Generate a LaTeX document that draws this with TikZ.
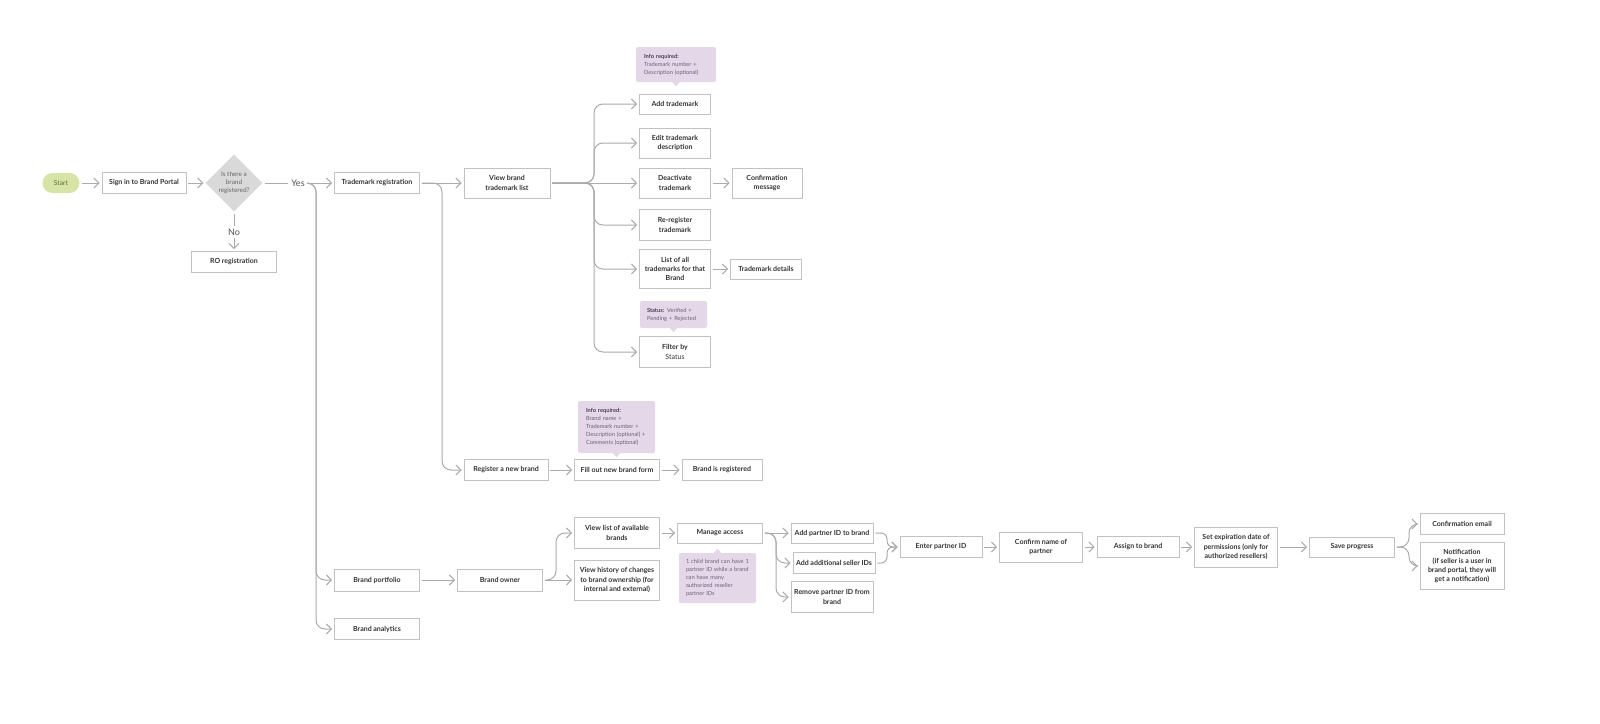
\documentclass[tikz,border=0pt]{standalone}
\usepackage{fontspec}
\setmainfont{Lato}
\usetikzlibrary{arrows.meta,shapes.geometric,calc}
\definecolor{linec}{HTML}{ABABAB}
\definecolor{boxc}{HTML}{C2C2C2}
\definecolor{txtc}{HTML}{333333}
\definecolor{startfill}{HTML}{D6E4A6}
\definecolor{starttxt}{HTML}{5A6A3A}
\definecolor{diafill}{HTML}{D9D9D9}
\definecolor{diatxt}{HTML}{666666}
\definecolor{notefill}{HTML}{E3D7E8}
\definecolor{notetxt}{HTML}{6E5F80}
\definecolor{notehead}{HTML}{4A3D58}
\tikzset{
  box/.style={draw=boxc, fill=white, line width=0.8pt, align=center, inner sep=0pt,
    text=txtc, font=\fontsize{7}{9.3}\selectfont\bfseries},
  conn/.style={draw=linec, line width=1pt, rounded corners=9pt, shorten <=2pt, shorten >=2pt,
    -{Straight Barb[length=5pt,width=10pt,line width=1pt]}},
  plain/.style={draw=linec, line width=1pt, rounded corners=9pt, shorten <=2pt, shorten >=2pt},
  note/.style={fill=notefill, rounded corners=2pt, align=left, inner sep=0pt, text=notetxt,
    font=\fontsize{5.7}{7.9}\selectfont},
  lbl/.style={text=txtc!85, font=\fontsize{9}{10}\selectfont, inner sep=1pt}
}
\begin{document}
\begin{tikzpicture}[x=1pt,y=-1pt]
\useasboundingbox[fill=white] (0,0) rectangle (1600,723);

% ---- top-left flow
\node[fill=startfill, rounded corners=10pt, minimum width=37pt, minimum height=20pt, inner sep=0pt,
  text=starttxt, font=\fontsize{6.7}{8}\selectfont] (start) at (61,183) {Start};
\node[box, minimum width=84pt, minimum height=21pt] (signin) at (144,183) {Sign in to Brand Portal};
\node[diamond, fill=diafill, minimum width=57pt, minimum height=57pt, inner sep=0pt] (dia) at (234,183) {};
\node[align=center, text=diatxt, font=\fontsize{6.4}{7.9}\selectfont, inner sep=0pt] (diatext) at (dia.center) {Is there a\\brand\\registered?};
\node[lbl] (yes) at (298,183) {Yes};
\node[lbl] (no) at (234,232) {No};
\node[box, minimum width=85pt, minimum height=21pt] (ro) at (234,262) {RO registration};

% ---- trademark branch
\node[box, minimum width=85pt, minimum height=21pt] (tmreg) at (377,183) {Trademark registration};
\node[box, minimum width=86pt, minimum height=30pt] (vbtl) at (507,183) {View brand\\trademark list};
\node[box, minimum width=71pt, minimum height=20pt] (add) at (675,104) {Add trademark};
\node[box, minimum width=71pt, minimum height=30pt] (edit) at (675,143) {Edit trademark\\description};
\node[box, minimum width=71pt, minimum height=30pt] (deact) at (675,183) {Deactivate\\trademark};
\node[box, minimum width=70pt, minimum height=30pt] (confmsg) at (767,183) {Confirmation\\message};
\node[box, minimum width=71pt, minimum height=31pt] (rereg) at (675,225) {Re-register\\trademark};
\node[box, minimum width=71pt, minimum height=39pt] (list) at (675,269) {List of all\\trademarks for that\\Brand};
\node[box, minimum width=71pt, minimum height=20pt] (tmdet) at (766,269) {Trademark details};
\node[box, minimum width=71pt, minimum height=31pt] (filter) at (675,352) {Filter by\\{\mdseries Status}};

\node[note, minimum width=80pt, minimum height=35pt, text width=64pt] (n1) at (676,64.5)
  {{\color{notehead}\bfseries Info required:}\\Trademark number +\\Description (optional)};
\fill[notefill] ($(n1.south)+(-4,-0.5)$) -- ($(n1.south)+(4,-0.5)$) -- ($(n1.south)+(0,4)$) -- cycle;
\node[note, minimum width=67pt, minimum height=27pt, text width=53pt] (n2) at (673.5,314.5)
  {{\color{notehead}\bfseries Status:} Verified +\\Pending + Rejected};
\fill[notefill] ($(n2.south)+(-4,-0.5)$) -- ($(n2.south)+(4,-0.5)$) -- ($(n2.south)+(0,4)$) -- cycle;

% ---- register new brand
\node[box, minimum width=84pt, minimum height=21pt] (regnew) at (506,470) {Register a new brand};
\node[box, minimum width=85pt, minimum height=21pt] (fill) at (617,470) {Fill out new brand form};
\node[box, minimum width=80pt, minimum height=21pt] (isreg) at (722,470) {Brand is registered};
\node[note, minimum width=77pt, minimum height=52pt, text width=61pt] (n3) at (616.5,427)
  {{\color{notehead}\bfseries Info required:}\\Brand name +\\Trademark number +\\Description (optional) +\\Comments (optional)};
\fill[notefill] ($(n3.south)+(-4,-0.5)$) -- ($(n3.south)+(4,-0.5)$) -- ($(n3.south)+(0,4)$) -- cycle;

% ---- portfolio branch
\node[box, minimum width=85pt, minimum height=22pt] (portfolio) at (377,580) {Brand portfolio};
\node[box, minimum width=85pt, minimum height=21pt] (analytics) at (377,629) {Brand analytics};
\node[box, minimum width=85pt, minimum height=22pt] (owner) at (500,580) {Brand owner};
\node[box, minimum width=85pt, minimum height=31pt] (vla) at (617,533) {View list of available\\brands};
\node[box, minimum width=85pt, minimum height=40pt] (vh) at (617,580) {View history of changes\\to brand ownership (for\\internal and external)};
\node[box, minimum width=85pt, minimum height=20pt] (manage) at (720,533) {Manage access};
\node[note, minimum width=77pt, minimum height=50pt, text width=63pt] (n4) at (717.5,578)
  {1 child brand can have 1\\partner ID while a brand\\can have many\\authorized reseller\\partner IDs};
\fill[notefill] ($(n4.north)+(-4,0.5)$) -- ($(n4.north)+(4,0.5)$) -- ($(n4.north)+(0,-4)$) -- cycle;
\node[box, minimum width=82pt, minimum height=20pt] (addp) at (832,533) {Add partner ID to brand};
\node[box, minimum width=82pt, minimum height=21pt] (adds) at (834,563) {Add additional seller IDs};
\node[box, minimum width=82pt, minimum height=31pt] (remove) at (832,597) {Remove partner ID from\\brand};
\node[box, minimum width=82pt, minimum height=21pt] (enter) at (941,547) {Enter partner ID};
\node[box, minimum width=83pt, minimum height=30pt] (confname) at (1041,547) {Confirm name of\\partner};
\node[box, minimum width=82pt, minimum height=21pt] (assign) at (1138,547) {Assign to brand};
\node[box, minimum width=83pt, minimum height=40pt] (setexp) at (1236,547) {Set expiration date of\\permissions (only for\\authorized resellers)};
\node[box, minimum width=85pt, minimum height=20pt] (save) at (1352,547) {Save progress};
\node[box, minimum width=84pt, minimum height=21pt] (email) at (1462,524) {Confirmation email};
\node[box, minimum width=84pt, minimum height=47pt] (notif) at (1462,566) {Notification\\(if seller is a user in\\brand portal, they will\\get a notification)};

% ---- junctions
\coordinate (jy) at (316,183);
\coordinate (jr) at (442,183);
\coordinate (jt) at (594,183);
\coordinate (jo) at (556,580);
\coordinate (jm) at (776,533);
\coordinate (je) at (887,547);
\coordinate (js) at (1409,547);

% ---- connectors
\draw[conn] (start) -- (signin);
\draw[conn] (signin) -- (dia);
\draw[plain] (dia.east) -- (yes.west);
\draw[conn] (yes.east) -- (tmreg.west);
\draw[plain] (dia.south) -- (no.north);
\draw[conn] (no.south) -- (ro.north);
\draw[conn] (yes.east) -- (jy) |- (portfolio.west);
\draw[conn] (yes.east) -- (jy) |- (analytics.west);

\draw[conn] (tmreg.east) -- (vbtl.west);
\draw[conn] (tmreg.east) -- (jr) |- (regnew.west);
\draw[conn] (vbtl.east) -- (jt) |- (add.west);
\draw[conn] (vbtl.east) -- (jt) |- (edit.west);
\draw[conn] (vbtl.east) -- (deact.west);
\draw[conn] (vbtl.east) -- (jt) |- (rereg.west);
\draw[conn] (vbtl.east) -- (jt) |- (list.west);
\draw[conn] (vbtl.east) -- (jt) |- (filter.west);
\draw[conn] (deact) -- (confmsg);
\draw[conn] (list) -- (tmdet);

\draw[conn] (regnew) -- (fill);
\draw[conn] (fill) -- (isreg);

\draw[conn] (portfolio) -- (owner);
\draw[conn] (owner.east) -- (jo) |- (vla.west);
\draw[conn] (owner.east) -- (vh.west);
\draw[conn] (vla.east) -- (manage.west);
\draw[conn] (manage.east) -- (addp.west);
\draw[conn] (manage.east) -- (jm) |- (adds.west);
\draw[conn] (manage.east) -- (jm) |- (remove.west);
\draw[conn, rounded corners=6pt] (addp.east) -| (je) -- (enter.west);
\draw[conn, rounded corners=6pt] (adds.east) -| (je) -- (enter.west);
\draw[conn] (enter) -- (confname);
\draw[conn] (confname) -- (assign);
\draw[conn] (assign) -- (setexp);
\draw[conn] (setexp) -- (save);
\draw[conn] (save.east) -- (js) |- (email.west);
\draw[conn] (save.east) -- (js) |- (notif.west);
\end{tikzpicture}
\end{document}
